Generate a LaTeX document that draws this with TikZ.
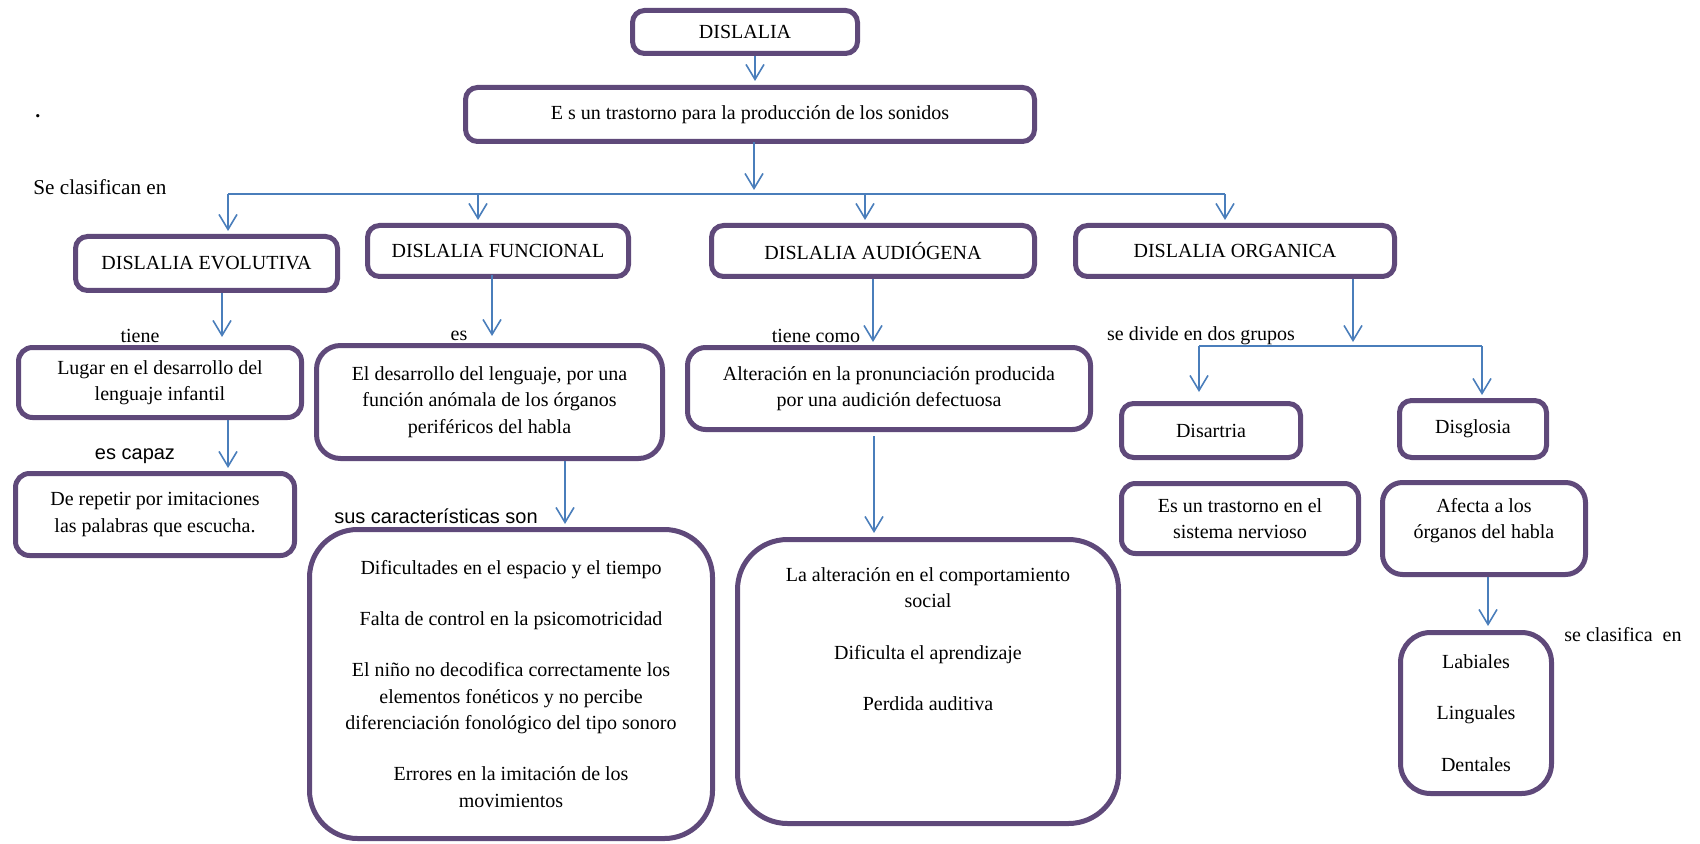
\documentclass[tikz,border=0pt]{standalone}
\usepackage{fontspec}
\setmainfont{Liberation Serif}
\newfontfamily\arialf{Liberation Sans}
\usetikzlibrary{arrows.meta,calc}
\definecolor{boxpurple}{HTML}{5F497A}
\definecolor{arrblue}{HTML}{4A7EBB}
\begin{document}
\begin{tikzpicture}[x=0.5pt,y=-0.5pt,
 box/.style={draw=boxpurple, line width=2.5pt, rounded corners=#1, align=center, inner sep=0pt, font=\fontsize{10}{13.25}\selectfont},
 box/.default=6pt,
 txt/.style={inner sep=0pt, align=center, font=\fontsize{10}{13.25}\selectfont},
 lbl/.style={inner sep=0pt, font=\fontsize{10}{12}\selectfont},
 slbl/.style={inner sep=0pt, font=\arialf\fontsize{10}{12}\selectfont},
 conn/.style={draw=arrblue, line width=0.8pt},
 arr/.style={conn, -{Straight Barb[length=7.5pt,width=9pt]}},
]
\useasboundingbox (0,0) rectangle (1700,844);

% boxes
\node[box, minimum width=112.5pt, minimum height=21.5pt] (dis) at (745,32) {DISLALIA};
\node[box, minimum width=284.5pt, minimum height=27pt] (def) at (750,114.5) {E s un trastorno para la producción de los sonidos};
\node[box, minimum width=131pt, minimum height=27pt] (evo) at (206.5,263.5) {DISLALIA EVOLUTIVA};
\node[box, minimum width=130.5pt, minimum height=25.5pt] (fun) at (498,251) {DISLALIA FUNCIONAL};
\node[box, minimum width=161.5pt, minimum height=25.5pt] (aud) at (873,251) {DISLALIA AUDIÓGENA};
\node[box, minimum width=159.5pt, minimum height=25.5pt] (org) at (1235,251) {DISLALIA ORGANICA};
\node[box=7pt, minimum width=141.5pt, minimum height=35pt] (lug) at (160,382.5) {Lugar en el desarrollo del\\lenguaje infantil};
\node[box=7pt, minimum width=139.5pt, minimum height=41pt] (rep) at (155,514.5) {De repetir por imitaciones\\las palabras que escucha.};
\node[box=12pt, minimum width=173pt, minimum height=56.5pt] (des) at (489.5,402) {El desarrollo del lenguaje, por una\\función anómala de los órganos\\periféricos del habla};
\node[box=24pt, minimum width=201.5pt, minimum height=154.5pt] (car) at (511,684) {Dificultades en el espacio y el tiempo\\[12.25pt]Falta de control en la psicomotricidad\\[12.25pt]El niño no decodifica correctamente los\\elementos fonéticos y no percibe\\diferenciación fonológico del tipo sonoro\\[12.25pt]Errores en la imitación de los\\movimientos};
\node[box=9pt, minimum width=201.5pt, minimum height=41pt] (alt) at (889,388.5) {Alteración en la pronunciación producida\\por una audición defectuosa};
\node[box=25pt, minimum width=190.5pt, minimum height=142pt] (aus) at (928,681.5) {};
\node[txt] (aust) at (928,639) {La alteración en el comportamiento\\social\\[12.75pt]Dificulta el aprendizaje\\[12.25pt]Perdida auditiva};
\node[box, minimum width=89.5pt, minimum height=27pt] (dart) at (1211,430.5) {Disartria};
\node[box, minimum width=73.5pt, minimum height=28.5pt] (dglo) at (1473,429) {Disglosia};
\node[box=7pt, minimum width=118.5pt, minimum height=35pt] (esun) at (1240,518.5) {Es un trastorno en el\\sistema nervioso};
\node[box=10pt, minimum width=101.5pt, minimum height=46pt] (afe) at (1484,528.5) {};
\node[txt] (afet) at (1484,520.5) {Afecta a los\\órganos del habla};
\node[box=15pt, minimum width=75.5pt, minimum height=80.5pt] (lab) at (1476,713) {Labiales\\[12.5pt]Linguales\\[12.5pt]Dentales};

% labels
\node[lbl, anchor=base west] (dot) at (35,118) {\textbf{.}};
\node[lbl, anchor=west, font=\fontsize{10.6}{12}\selectfont] (clas) at (33,187) {Se clasifican en};
\node[lbl] (tiene) at (140,336) {tiene};
\node[slbl] (capaz) at (135,456) {es capaz};
\node[lbl] (es) at (459,336) {es};
\node[slbl] (sus) at (436,516) {sus características son};
\node[lbl] (tcomo) at (816,336) {tiene como};
\node[lbl] (divide) at (1201,336) {se divide en dos grupos};
\node[lbl] (sclas) at (1623,635) {se clasifica\ \ en};

% coordinates for connectors
\coordinate (m1) at (754,194);
\coordinate (bl) at (228,194);
\coordinate (bf) at (478,194);
\coordinate (ba) at (865,194);
\coordinate (br) at (1225,194);
\coordinate (xd) at (755,0);
\coordinate (xe) at (222,0);
\coordinate (xl) at (228,0);
\coordinate (xf) at (492,0);
\coordinate (xc) at (565,0);
\coordinate (xa) at (873,0);
\coordinate (xt) at (874,0);
\coordinate (m2) at (1353,346);
\coordinate (cl) at (1199,346);
\coordinate (cr) at (1482,346);
\coordinate (xg) at (1488,0);

% connectors
\draw[arr, shorten >=2pt] (dis.south -| xd) -- (def.north -| xd);
\draw[arr, shorten <=-1pt, shorten >=2pt] (def.south -| m1) -- (m1);
\draw[conn] (bl) -- (br);
\draw[arr, shorten >=1.5pt] (bl) -- (evo.north -| bl);
\draw[arr, shorten >=1.5pt] (bf) -- (fun.north -| bf);
\draw[arr, shorten >=1.5pt] (ba) -- (aud.north -| ba);
\draw[arr, shorten >=1.5pt] (br) -- (org.north -| br);

\draw[arr, shorten >=4pt] (evo.south -| xe) -- (lug.north -| xe);
\draw[arr, shorten >=1.5pt] (lug.south -| xl) -- (rep.north -| xl);
\draw[arr, shorten <=-2pt, shorten >=3.5pt] (fun.south -| xf) -- (des.north -| xf);
\draw[arr, shorten >=1.5pt] (des.south -| xc) -- (car.north -| xc);
\draw[arr, shorten >=1.5pt] (aud.south -| xa) -- (alt.north -| xa);
\draw[arr, shorten <=2pt, shorten >=2pt] (alt.south -| xt) -- (aus.north -| xt);

\draw[arr, shorten >=2pt] (org.south -| m2) -- (m2);
\draw[conn] (cl) -- (cr);
\draw[arr, shorten >=4.5pt] (cl) -- (dart.north -| cl);
\draw[arr, shorten >=1.5pt] (cr) -- (dglo.north -| cr);
\draw[arr, shorten >=2pt] (afe.south -| xg) -- (lab.north -| xg);
\end{tikzpicture}
\end{document}
